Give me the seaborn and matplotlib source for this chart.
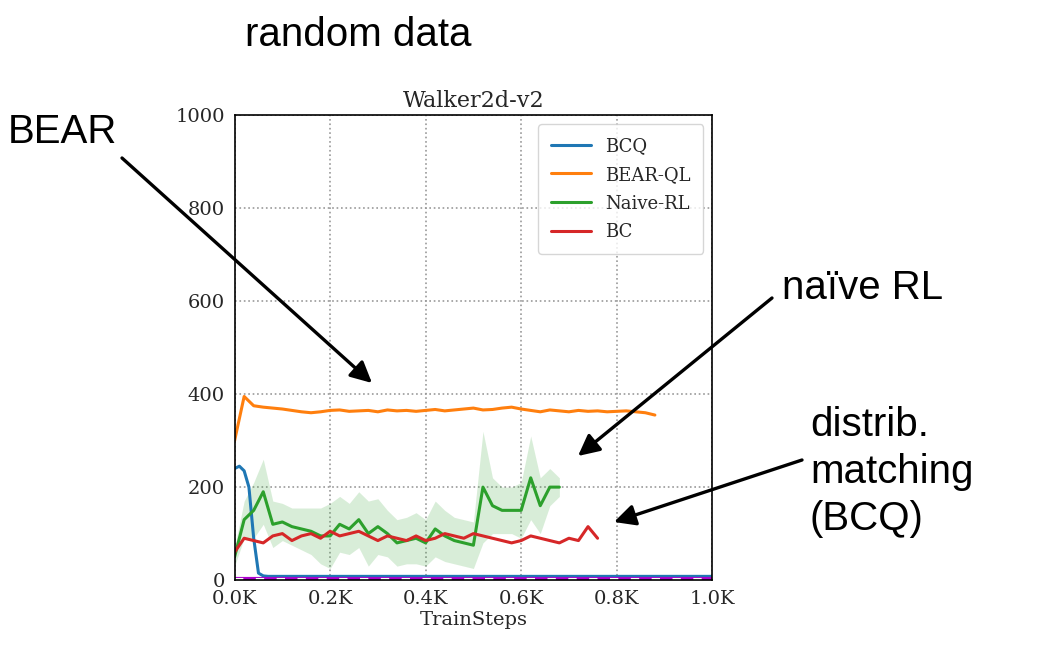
import matplotlib
matplotlib.use("Agg")
import matplotlib.pyplot as plt
import numpy as np
import seaborn as sns

# values sampled every 10 train steps for BCQ, 20 for the others
bcq = [240, 245, 235, 200, 90, 15, 9, 8, 8, 8]
bear_ql = [300, 395, 375, 372, 370, 368, 365, 362, 360, 362, 365, 366, 363, 364, 365,
           362, 366, 364, 365, 363, 365, 367, 364, 366, 368, 370, 366, 367, 370, 372,
           368, 365, 362, 366, 364, 362, 365, 363, 364, 362, 363, 364, 362, 360, 355]
naive_rl = [50, 130, 150, 190, 120, 125, 115, 110, 105, 95, 95, 120, 110, 130, 100, 115,
            100, 80, 85, 90, 80, 110, 95, 85, 80, 75, 200, 160, 150, 150, 150, 220, 160,
            200, 200]
naive_spread = [20, 40, 60, 70, 50, 40, 40, 45, 50, 60, 70, 60, 55, 60, 70, 60, 50, 50,
                50, 55, 50, 60, 55, 50, 50, 50, 120, 60, 50, 50, 60, 90, 60, 40, 20]
bc = [60, 90, 85, 80, 95, 100, 85, 95, 100, 90, 105, 95, 100, 105, 95, 85, 95, 90, 85,
      95, 85, 90, 100, 95, 90, 100, 95, 90, 85, 80, 85, 95, 90, 85, 80, 90, 85, 115, 90]
step = 20
bcq_step = 10

sns.set_theme(style="ticks")
plt.rcParams["font.family"] = ["DejaVu Serif"]

fig = plt.figure(figsize=(10.52, 6.66), dpi=100)
ax = fig.add_axes([0.223, 0.129, 0.454, 0.698])

c_blue, c_orange, c_green, c_red = "#1f77b4", "#ff7f0e", "#2ca02c", "#d62728"


def steps(vals, st=step):
    return np.arange(len(vals)) * st


x_bcq = list(steps(bcq, bcq_step)) + [1000]
sns.lineplot(x=x_bcq, y=bcq + [8], ax=ax, color=c_blue, lw=2.2, label="BCQ")
sns.lineplot(x=steps(bear_ql), y=bear_ql, ax=ax, color=c_orange, lw=2.2, label="BEAR-QL")
xg = steps(naive_rl)
g = np.array(naive_rl)
s = np.array(naive_spread)
ax.fill_between(xg, g - s, g + s, color=c_green, alpha=0.18, lw=0)
sns.lineplot(x=xg, y=naive_rl, ax=ax, color=c_green, lw=2.2, label="Naive-RL")
sns.lineplot(x=steps(bc), y=bc, ax=ax, color=c_red, lw=2.2, label="BC")
ax.plot([0, 1000], [2, 2], color="#aa00cc", lw=3)
ax.plot([0, 1000], [3, 3], color="white", lw=1.5, ls=(0, (4, 6)))

ax.set_xlim(0, 1000)
ax.set_ylim(0, 1000)
ax.set_xticks(np.arange(0, 1001, 200))
ax.set_xticklabels([f"{v / 1000:.1f}K" for v in range(0, 1001, 200)])
ax.set_yticks(np.arange(0, 1001, 200))
ax.tick_params(labelsize=14, length=0, pad=7)
ax.grid(True, ls=":", color="#999999", lw=1.2)
ax.set_xlabel("TrainSteps", fontsize=14, labelpad=2)
ax.set_ylabel("")
ax.set_title("Walker2d-v2", fontsize=16)
for sp in ax.spines.values():
    sp.set_linewidth(1.2)
    sp.set_color("black")
ax.legend(loc="upper right", fontsize=13, handlelength=2.2, labelspacing=0.6,
          borderpad=0.7, frameon=True, edgecolor="#cccccc")

H = 666
big = dict(fontsize=29, color="black", family=["Liberation Sans", "DejaVu Sans"])
fig.text(245 / 1052, 1 - 35 / H, "random data", va="center", ha="left", **big)
fig.text(8 / 1052, 1 - 132 / H, "BEAR", va="center", ha="left", **big)
fig.text(782 / 1052, 1 - 288 / H, "naïve RL", va="center", ha="left", **big)
fig.text(810 / 1052, 1 - 472 / H, "distrib.\nmatching\n(BCQ)", va="center", ha="left",
         linespacing=1.3, **big)
for start, end in [((122, 158), (372, 383)), ((772, 298), (578, 456)),
                   ((802, 460), (614, 522))]:
    fig.add_artist(matplotlib.patches.FancyArrowPatch(
        (start[0], H - start[1]), (end[0], H - end[1]), transform=None,
        arrowstyle="-|>", mutation_scale=32, color="black", lw=2.4,
        shrinkA=0, shrinkB=0))

fig.savefig("out.png", dpi=100)
